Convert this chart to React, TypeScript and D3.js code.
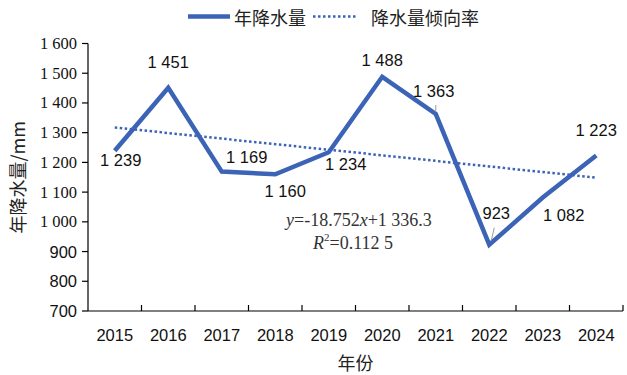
import React from "react";
import * as d3 from "d3";

// data
const years = ["2015", "2016", "2017", "2018", "2019", "2020", "2021", "2022", "2023", "2024"];
const rainfall = [1239, 1451, 1169, 1160, 1234, 1488, 1363, 923, 1082, 1223];
const yTicks = [700, 800, 900, 1000, 1100, 1200, 1300, 1400, 1500, 1600];
const trendSlope = -18.752;
const trendIntercept = 1336.3;

// label placement relative to the point (px)
const labelOffsets: [number, number][] = [
  [6, 9], [0, -26], [25, -15], [10, 17], [17, 12],
  [0, -17], [-2, -23], [7, -32], [21, 18], [0, -26],
];

const W = 627;
const H = 375;
const margin = { left: 88, right: 4, top: 43.5, bottom: 64 };
const BLUE = "#3b63b6";
const SANS = "'Liberation Sans', Arial, sans-serif";
const SERIF = "'Liberation Serif', 'Times New Roman', serif";
const CJK = "'Noto Sans CJK SC', sans-serif";

const fmt = (v: number) => {
  const s = String(v);
  return s.length > 3 ? s.slice(0, s.length - 3) + " " + s.slice(-3) : s;
};

export default function App() {
  const x = d3
    .scaleBand<string>()
    .domain(years)
    .range([margin.left, W - margin.right]);
  const y = d3
    .scaleLinear()
    .domain([700, 1600])
    .range([H - margin.bottom, margin.top]);
  const cx = (i: number) => (x(years[i]) as number) + x.bandwidth() / 2;

  const line = d3
    .line<number>()
    .x((d, i) => cx(i))
    .y((d) => y(d));

  const trend = years.map((_, i) => trendSlope * (i + 1) + trendIntercept);
  const axisY = H - margin.bottom;

  return (
    <svg
      width={W}
      height={H}
      style={{ position: "absolute", left: 0, top: 0, background: "#fff" }}
    >
      {/* legend */}
      <line x1={188} x2={230} y1={16.5} y2={16.5} stroke={BLUE} strokeWidth={4.5} />
      <text x={234} y={16.5} fontFamily={CJK} fontSize={18} dominantBaseline="central" fill="#222">
        年降水量
      </text>
      <line x1={313} x2={356} y1={16.5} y2={16.5} stroke={BLUE} strokeWidth={2.5} strokeDasharray="2.5,2.5" />
      <text x={371} y={16.5} fontFamily={CJK} fontSize={18} dominantBaseline="central" fill="#222">
        降水量倾向率
      </text>

      {/* y axis */}
      <line x1={margin.left} x2={margin.left} y1={margin.top} y2={axisY} stroke="#000" strokeWidth={1.2} />
      {yTicks.map((t) => (
        <g key={t}>
          <line x1={margin.left - 6} x2={margin.left} y1={y(t)} y2={y(t)} stroke="#000" strokeWidth={1.2} />
          <text
            x={margin.left - 11}
            y={y(t)}
            textAnchor="end"
            dominantBaseline="central"
            fontFamily={t >= 1000 ? SERIF : SANS}
            fontSize={t >= 1000 ? 16.5 : 16.5}
            fill="#111"
          >
            {fmt(t)}
          </text>
        </g>
      ))}
      <text
        transform={`translate(17,${(margin.top + axisY) / 2}) rotate(-90)`}
        textAnchor="middle"
        dominantBaseline="central"
        fontFamily={CJK}
        fontSize={18}
        fill="#222"
      >
        年降水量/mm
      </text>

      {/* x axis */}
      <line x1={margin.left} x2={W - margin.right} y1={axisY} y2={axisY} stroke="#000" strokeWidth={1.2} />
      {years.map((yr, i) => (
        <g key={yr}>
          <line
            x1={(x(yr) as number) + x.bandwidth()}
            x2={(x(yr) as number) + x.bandwidth()}
            y1={axisY}
            y2={axisY - 6}
            stroke="#000"
            strokeWidth={1.2}
          />
          <text x={cx(i)} y={axisY + 24} textAnchor="middle" dominantBaseline="central" fontFamily={SANS} fontSize={16.5} fill="#111">
            {yr}
          </text>
        </g>
      ))}
      <text x={(margin.left + W - margin.right) / 2} y={362} textAnchor="middle" dominantBaseline="central" fontFamily={CJK} fontSize={18} fill="#222">
        年份
      </text>

      {/* trend line */}
      <path d={line(trend) as string} fill="none" stroke={BLUE} strokeWidth={2.5} strokeDasharray="2.5,2.5" />

      {/* rainfall line */}
      <path d={line(rainfall) as string} fill="none" stroke={BLUE} strokeWidth={4.5} strokeLinejoin="miter" />

      {/* leader lines */}
      <line x1={cx(6)} x2={cx(6)} y1={y(rainfall[6]) - 9} y2={y(rainfall[6]) - 2} stroke="#999" strokeWidth={1} />
      <line x1={cx(7) + 5} x2={cx(7) + 2} y1={y(rainfall[7]) - 17} y2={y(rainfall[7]) - 4} stroke="#999" strokeWidth={1} />

      {/* data labels */}
      {rainfall.map((v, i) => (
        <text
          key={i}
          x={cx(i) + labelOffsets[i][0]}
          y={y(v) + labelOffsets[i][1]}
          textAnchor="middle"
          dominantBaseline="central"
          fontFamily={SANS}
          fontSize={16.5}
          fill="#111"
        >
          {fmt(v)}
        </text>
      ))}

      {/* equation */}
      <text x={286} y={220} dominantBaseline="central" fontFamily={SERIF} fontSize={18} fill="#333">
        <tspan fontStyle="italic">y</tspan>=-18.752<tspan fontStyle="italic">x</tspan>+1 336.3
      </text>
      <text x={313} y={243} dominantBaseline="central" fontFamily={SERIF} fontSize={18} fill="#333">
        <tspan fontStyle="italic">R</tspan>
        <tspan fontSize={11} dy={-6}>2</tspan>
        <tspan dy={6}>=0.112 5</tspan>
      </text>
    </svg>
  );
}
